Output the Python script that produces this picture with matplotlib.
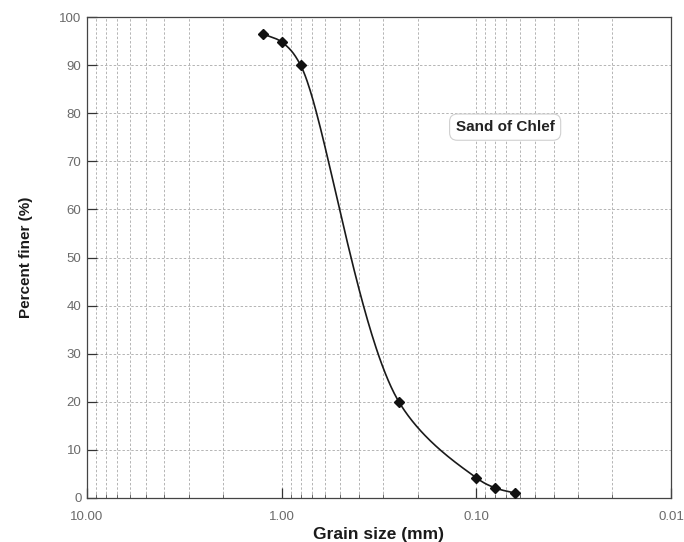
import numpy as np
import matplotlib
matplotlib.use("Agg")
import matplotlib.pyplot as plt
from matplotlib.ticker import LogLocator, FixedLocator, NullFormatter

plt.rcParams['font.family'] = ['Liberation Sans', 'DejaVu Sans']

# Sieve analysis of the Chlef sand
grain_size_mm = [1.25, 1.0, 0.8, 0.25, 0.1, 0.08, 0.063]
percent_finer = [96.5, 94.8, 90.0, 20.0, 4.2, 2.1, 1.0]

x_tick_values = [10.0, 1.0, 0.1, 0.01]
x_tick_labels = ["10.00", "1.00", "0.10", "0.01"]
y_tick_values = list(range(0, 101, 10))


def smooth_curve(ax, xs, ys, n=80, alpha=0.5):
    """Centripetal Catmull-Rom spline through the points, built in display space."""
    to_disp = ax.transData
    pts = to_disp.transform(np.column_stack([xs, ys]))
    p = np.vstack([2 * pts[0] - pts[1], pts, 2 * pts[-1] - pts[-2]])
    out = []
    for i in range(1, len(p) - 2):
        P0, P1, P2, P3 = p[i - 1], p[i], p[i + 1], p[i + 2]
        t0 = 0.0
        t1 = t0 + np.linalg.norm(P1 - P0) ** alpha
        t2 = t1 + np.linalg.norm(P2 - P1) ** alpha
        t3 = t2 + np.linalg.norm(P3 - P2) ** alpha
        t = np.linspace(t1, t2, n)[:, None]
        A1 = (t1 - t) / (t1 - t0) * P0 + (t - t0) / (t1 - t0) * P1
        A2 = (t2 - t) / (t2 - t1) * P1 + (t - t1) / (t2 - t1) * P2
        A3 = (t3 - t) / (t3 - t2) * P2 + (t - t2) / (t3 - t2) * P3
        B1 = (t2 - t) / (t2 - t0) * A1 + (t - t0) / (t2 - t0) * A2
        B2 = (t3 - t) / (t3 - t1) * A2 + (t - t1) / (t3 - t1) * A3
        C = (t2 - t) / (t2 - t1) * B1 + (t - t1) / (t2 - t1) * B2
        out.append(C)
    curve = to_disp.inverted().transform(np.vstack(out))
    return curve[:, 0], curve[:, 1]


fig = plt.figure(figsize=(6.84, 5.42), dpi=100)
ax = fig.add_axes([87 / 684, 44 / 542, 584 / 684, 481 / 542])

ax.set_xscale('log')
ax.set_xlim(10.0, 0.01)
ax.set_ylim(0, 100)

# grid: every decade sub-division and every 10 %
ax.xaxis.set_major_locator(FixedLocator(x_tick_values))
ax.set_xticklabels(x_tick_labels)
ax.xaxis.set_minor_locator(LogLocator(base=10, subs=np.arange(2, 10)))
ax.xaxis.set_minor_formatter(NullFormatter())
ax.set_yticks(y_tick_values)

grid_style = dict(color='#b4b4b4', linestyle=(0, (2.5, 2)), linewidth=0.7)
ax.grid(True, which='major', axis='both', **grid_style)
ax.grid(True, which='minor', axis='x', **grid_style)
ax.set_axisbelow(True)

ax.tick_params(axis='both', which='major', direction='in', length=7,
               width=0.9, color='#333333', labelsize=9.5, labelcolor='#6a6a6a')
ax.tick_params(axis='x', which='major', pad=9)
ax.tick_params(axis='y', which='major', pad=4)
ax.tick_params(axis='x', which='minor', direction='in', length=3,
               width=0.6, color='#555555')

for s in ax.spines.values():
    s.set_color('#444444')
    s.set_linewidth(0.9)

cx, cy = smooth_curve(ax, grain_size_mm, percent_finer)
ax.plot(cx, cy, color='#1a1a1a', linewidth=1.2, zorder=3)
ax.plot(grain_size_mm, percent_finer, linestyle='none', marker='D',
        markersize=5, color='#111111', zorder=4)

ax.set_xlabel("Grain size (mm)", fontsize=12.5, fontweight='bold',
              color='#1a1a1a', labelpad=3)
ax.set_ylabel("Percent finer (%)", fontsize=11, fontweight='bold',
              color='#1a1a1a', labelpad=19)

ax.text(0.716, 0.771, "Sand of Chlef", transform=ax.transAxes,
        ha='center', va='center', fontsize=11, fontweight='bold',
        color='#222222', zorder=5,
        bbox=dict(boxstyle='round,pad=0.4,rounding_size=0.5',
                  facecolor='white', edgecolor='#d0d0d0', linewidth=0.8))

fig.savefig("out.png", dpi=100)
